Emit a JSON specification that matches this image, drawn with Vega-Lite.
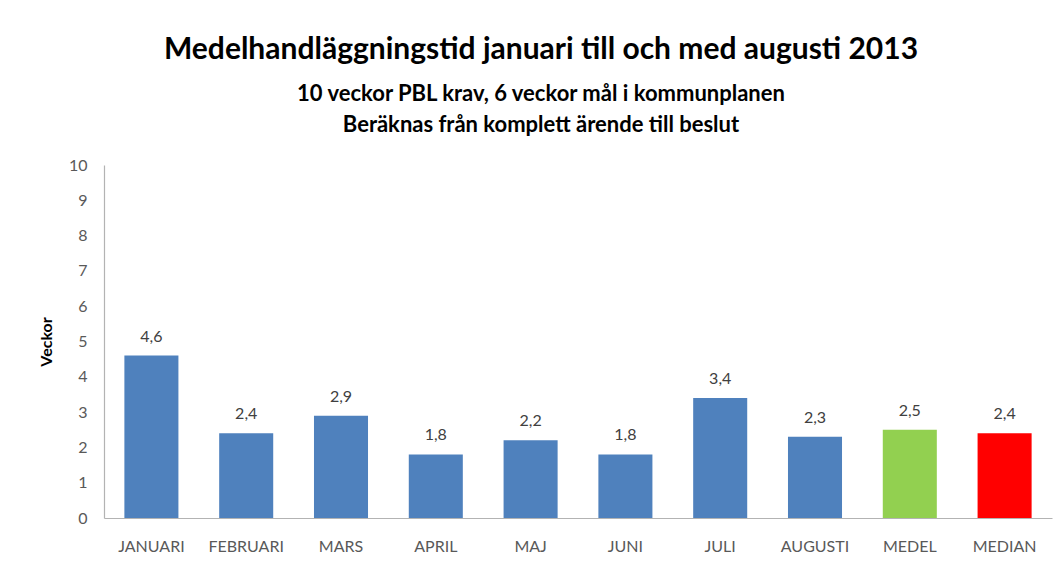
{
  "$schema": "https://vega.github.io/schema/vega-lite/v6.json",
  "autosize": "none",
  "width": 948,
  "height": 353,
  "padding": {"left": 104, "top": 165, "right": 9, "bottom": 43},
  "background": "white",
  "config": {
    "locale": {"number": {"decimal": ",", "thousands": " ", "grouping": [3], "currency": ["", " kr"]}},
    "view": {"stroke": null},
    "font": "Lato"
  },
  "title": {
    "text": "Medelhandläggningstid januari till och med augusti 2013",
    "subtitle": ["10 veckor PBL krav, 6 veckor mål i kommunplanen", "Beräknas från komplett ärende till beslut"],
    "font": "Lato",
    "fontSize": 30,
    "fontWeight": "bold",
    "color": "#000000",
    "subtitleFont": "Lato",
    "subtitleFontSize": 22,
    "subtitleFontWeight": "bold",
    "subtitleColor": "#000000",
    "subtitleLineHeight": 31,
    "subtitlePadding": 19,
    "anchor": "middle",
    "dx": -37,
    "offset": 21
  },
  "data": {
    "values": [
      {"month": "JANUARI", "value": 4.6, "kind": "month"},
      {"month": "FEBRUARI", "value": 2.4, "kind": "month"},
      {"month": "MARS", "value": 2.9, "kind": "month"},
      {"month": "APRIL", "value": 1.8, "kind": "month"},
      {"month": "MAJ", "value": 2.2, "kind": "month"},
      {"month": "JUNI", "value": 1.8, "kind": "month"},
      {"month": "JULI", "value": 3.4, "kind": "month"},
      {"month": "AUGUSTI", "value": 2.3, "kind": "month"},
      {"month": "MEDEL", "value": 2.5, "kind": "medel"},
      {"month": "MEDIAN", "value": 2.4, "kind": "median"}
    ]
  },
  "encoding": {
    "x": {
      "field": "month",
      "type": "nominal",
      "sort": null,
      "scale": {"paddingInner": 0.43, "paddingOuter": 0.215},
      "axis": {
        "title": null,
        "labelAngle": 0,
        "labelColor": "#595959",
        "labelFontSize": 16,
        "labelPadding": 20,
        "ticks": false,
        "domainColor": "#b3b3b3",
        "domainWidth": 1.2
      }
    },
    "y": {
      "field": "value",
      "type": "quantitative",
      "scale": {"domain": [0, 10], "nice": false},
      "axis": {
        "title": "Veckor",
        "titleFontSize": 16,
        "titleFontWeight": "bold",
        "titleColor": "#000000",
        "titlePadding": 14,
        "values": [0, 1, 2, 3, 4, 5, 6, 7, 8, 9, 10],
        "labelOverlap": false,
        "labelColor": "#595959",
        "labelFontSize": 16,
        "labelPadding": 17,
        "ticks": false,
        "grid": false,
        "domainColor": "#b3b3b3",
        "domainWidth": 1.2
      }
    }
  },
  "layer": [
    {
      "mark": {"type": "bar"},
      "encoding": {
        "color": {
          "field": "kind",
          "type": "nominal",
          "scale": {"domain": ["month", "medel", "median"], "range": ["#4F81BD", "#92D050", "#FF0000"]},
          "legend": null
        }
      }
    },
    {
      "mark": {"type": "text", "dy": -19, "fontSize": 16, "color": "#404040", "font": "Lato"},
      "encoding": {
        "text": {"field": "value", "type": "quantitative", "format": ".1f"}
      }
    }
  ]
}
